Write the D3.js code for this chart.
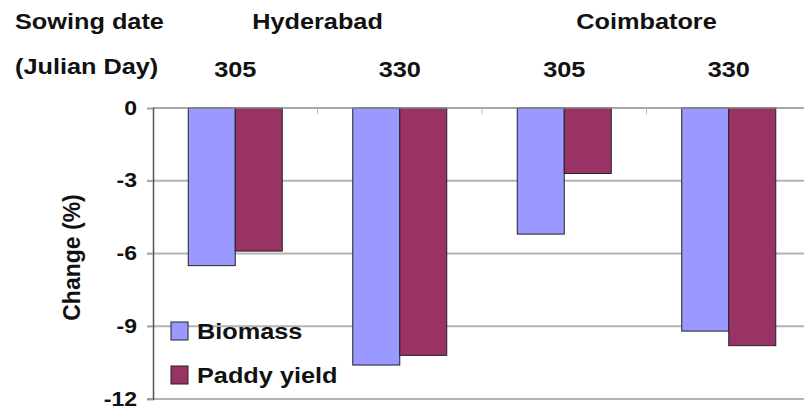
<!DOCTYPE html>
<html>
<head>
<meta charset="utf-8">
<script src="https://cdn.jsdelivr.net/npm/d3@7"></script>
<style>
  body { margin: 0; background: #fff; }
  svg { display: block; font-family: "Liberation Sans", Arial, sans-serif; font-weight: bold; }
</style>
</head>
<body>
<svg id="chart" width="804" height="409"></svg>
<script>
// data
const sites = ['Hyderabad', 'Coimbatore'];
const sowingDays = ['305', '330', '305', '330'];
const categories = ['H305', 'H330', 'C305', 'C330'];
const series = ['Biomass', 'Paddy yield'];
const biomass = [-6.5, -10.6, -5.2, -9.2];
const paddyYield = [-5.9, -10.2, -2.7, -9.8];
const yTicks = [0, -3, -6, -9, -12];

const colors = { 'Biomass': '#9999ff', 'Paddy yield': '#993366' };
const values = { 'Biomass': biomass, 'Paddy yield': paddyYield };

const svg = d3.select('#chart');
const stretch = 1.15; // text in the source looks wider than normal

const x0 = d3.scaleBand().domain(categories).range([153, 811]);
const x1 = d3.scaleBand().domain(series).range([0, x0.bandwidth()]).paddingOuter(0.75);
const y = d3.scaleLinear().domain([-12, 0]).range([399, 108]);

// grid lines
svg.append('g').selectAll('line')
    .data(yTicks.filter(t => t !== 0))
    .join('line')
    .attr('x1', 147).attr('x2', 811)
    .attr('y1', d => y(d)).attr('y2', d => y(d))
    .attr('stroke', '#b4b4b4').attr('stroke-width', 2);

// bars
const groups = svg.append('g').selectAll('g')
    .data(categories)
    .join('g')
    .attr('transform', d => `translate(${x0(d)},0)`);

groups.selectAll('rect')
    .data((d, i) => series.map(s => ({ s, v: values[s][i] })))
    .join('rect')
    .attr('x', d => x1(d.s))
    .attr('width', x1.bandwidth())
    .attr('y', y(0))
    .attr('height', d => y(d.v) - y(0))
    .attr('fill', d => colors[d.s])
    .attr('stroke', '#222')
    .attr('stroke-width', 1);

// x axis at zero
svg.append('line')
    .attr('x1', 153).attr('x2', 811)
    .attr('y1', y(0)).attr('y2', y(0))
    .attr('stroke', '#8a8a8a').attr('stroke-width', 1.5);
svg.append('g').selectAll('line')
    .data(categories.slice(1))
    .join('line')
    .attr('x1', d => x0(d)).attr('x2', d => x0(d))
    .attr('y1', y(0)).attr('y2', y(0) + 6)
    .attr('stroke', '#bbb');

// y axis
const yAxis = svg.append('g')
    .attr('transform', 'translate(153,0)')
    .call(d3.axisLeft(y).tickValues(yTicks).tickSize(6).tickPadding(10).tickFormat(d => String(d)));
yAxis.select('.domain').attr('stroke', '#555').attr('stroke-width', 1.5);
yAxis.selectAll('.tick line').attr('stroke', '#999');
yAxis.selectAll('.tick text')
    .attr('transform', `scale(${stretch},1)`)
    .attr('x', -16 / stretch)
    .attr('font-size', 20)
    .attr('font-weight', 'bold')
    .attr('font-family', '"Liberation Sans", Arial, sans-serif')
    .attr('fill', '#111')
    .attr('dy', '0.3em');

// y title
svg.append('text')
    .attr('transform', `translate(80,${(y(0) + y(-12)) / 2 + 4}) rotate(-90)`)
    .attr('text-anchor', 'middle')
    .attr('font-size', 23)
    .attr('fill', '#111')
    .text('Change (%)');

// header labels
function label(text, x, yy, anchor) {
    svg.append('text')
        .attr('transform', `translate(${x},${yy}) scale(${stretch},1)`)
        .attr('text-anchor', anchor)
        .attr('font-size', 22)
        .attr('fill', '#111')
        .text(text);
}
label('Sowing date', 15, 29, 'start');
label('(Julian Day)', 15, 74, 'start');
sites.forEach((s, i) => label(s, x0(categories[i * 2 + 1]), 29, 'middle'));
sowingDays.forEach((d, i) => label(d, x0(categories[i]) + x0.bandwidth() / 2, 77, 'middle'));

// legend
const legend = svg.append('g').selectAll('g')
    .data(series)
    .join('g')
    .attr('transform', (d, i) => `translate(171,${322 + i * 44})`);
legend.append('rect')
    .attr('width', 17).attr('height', 18)
    .attr('fill', d => colors[d])
    .attr('stroke', '#222');
legend.append('text')
    .attr('transform', `translate(26,17) scale(${stretch},1)`)
    .attr('font-size', 22)
    .attr('fill', '#111')
    .text(d => d);
</script>
</body>
</html>
